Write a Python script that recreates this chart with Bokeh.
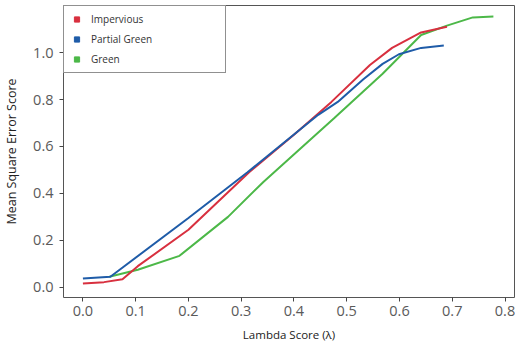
from bokeh.plotting import figure
from bokeh.models import Range1d, Legend, LegendItem, FixedTicker
from bokeh.embed import file_html
from bokeh.resources import INLINE

# Data
lambda_imp = [0.0, 0.04, 0.075, 0.104, 0.2, 0.315, 0.4, 0.471, 0.544, 0.586, 0.641, 0.69]
mse_imp = [0.016, 0.022, 0.034, 0.09, 0.245, 0.49, 0.65, 0.79, 0.947, 1.02, 1.086, 1.11]

lambda_pg = [0.0, 0.052, 0.2, 0.312, 0.446, 0.483, 0.531, 0.568, 0.599, 0.641, 0.684]
mse_pg = [0.037, 0.045, 0.295, 0.49, 0.735, 0.79, 0.885, 0.952, 0.993, 1.02, 1.03]

lambda_g = [0.05, 0.104, 0.183, 0.275, 0.342, 0.476, 0.568, 0.641, 0.69, 0.739, 0.778]
mse_g = [0.045, 0.075, 0.134, 0.30, 0.449, 0.72, 0.91, 1.075, 1.115, 1.15, 1.154]

x_ticks = [0.0, 0.1, 0.2, 0.3, 0.4, 0.5, 0.6, 0.7, 0.8]
y_ticks = [0.0, 0.2, 0.4, 0.6, 0.8, 1.0]

series_names = ["Impervious", "Partial Green", "Green"]
colors = {"Impervious": "#d8303f", "Partial Green": "#1f5ca8", "Green": "#4cb848"}

p = figure(width=515, height=344, output_backend="svg", toolbar_location=None,
           x_range=Range1d(-0.0368, 0.818), y_range=Range1d(-0.0435, 1.2007),
           min_border_left=61, min_border_right=1, min_border_top=5, min_border_bottom=47)

p.grid.visible = False
p.outline_line_color = "#555555"
p.outline_line_width = 1
p.background_fill_color = "white"
p.border_fill_color = "white"

for ax in (p.xaxis[0], p.yaxis[0]):
    ax.axis_line_color = None
    ax.major_tick_line_color = "#444444"
    ax.major_tick_out = 4
    ax.major_tick_in = 0
    ax.minor_tick_line_color = None
    ax.major_label_text_font = "Open Sans"
    ax.major_label_text_font_size = "14.5px"
    ax.major_label_text_color = "#5a5a5a"
    ax.axis_label_text_font = "Open Sans"
    ax.axis_label_text_font_style = "normal"
    ax.axis_label_text_color = "#222222"

p.xaxis.ticker = FixedTicker(ticks=x_ticks)
p.yaxis.ticker = FixedTicker(ticks=y_ticks)
p.xaxis.major_label_overrides = {t: f"{t:.1f}" for t in x_ticks}
p.yaxis.major_label_overrides = {t: f"{t:.1f}" for t in y_ticks}
p.xaxis.major_label_standoff = 4
p.yaxis.major_label_standoff = 6
p.xaxis.axis_label = "Lambda Score (\u03bb)"
p.yaxis.axis_label = "Mean Square Error Score"
p.xaxis.axis_label_text_font_size = "11.5px"
p.yaxis.axis_label_text_font_size = "12.5px"
p.xaxis.axis_label_standoff = 8
p.yaxis.axis_label_standoff = 10

p.line(lambda_g, mse_g, line_color=colors["Green"], line_width=2)
p.line(lambda_imp, mse_imp, line_color=colors["Impervious"], line_width=2)
p.line(lambda_pg, mse_pg, line_color=colors["Partial Green"], line_width=2)

items = []
for name in series_names:
    # one off-screen point so the legend has a glyph to draw
    r = p.scatter([-10], [-10], marker="square", size=6, fill_color=colors[name], line_color=colors[name])
    items.append(LegendItem(label=name, renderers=[r]))

legend = Legend(items=items, location="top_left", margin=0, padding=6,
                glyph_width=13, glyph_height=14, label_standoff=8, label_width=128,
                label_height=14, spacing=6,
                label_text_font="Open Sans", label_text_font_size="10px",
                label_text_color="#333333",
                border_line_color="#222222", border_line_width=1,
                background_fill_color="white", background_fill_alpha=1.0)
p.add_layout(legend, "center")

open("out.html", "w").write(file_html(p, INLINE))
